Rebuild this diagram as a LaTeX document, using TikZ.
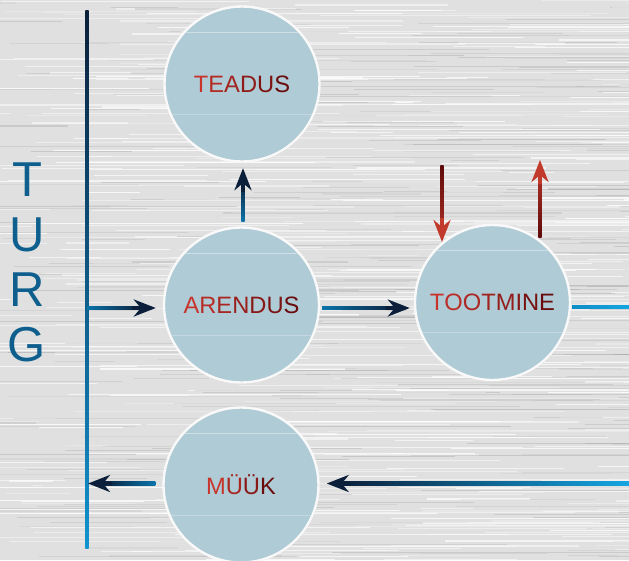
\documentclass[tikz,border=0pt]{standalone}
\usepackage{fontspec}
\setmainfont{Liberation Sans}
\usetikzlibrary{arrows.meta,calc,shadows}
\definecolor{navy}{HTML}{0B1F3A}
\definecolor{bmid}{HTML}{0A74AA}
\definecolor{bbright}{HTML}{14A6E2}
\definecolor{bline}{HTML}{1192CF}
\definecolor{discfill}{HTML}{AFCBD6}
\definecolor{rA}{HTML}{C8342C}
\definecolor{rB}{HTML}{6A0C0C}
\definecolor{rhead}{HTML}{C23A2C}
\definecolor{rdark}{HTML}{5E0A0A}
\definecolor{turgc}{HTML}{0E5F8D}
\definecolor{metal}{HTML}{E0E0E0}
\begin{document}
\begin{tikzpicture}[x=1pt,y=-1pt,
  disc/.style={circle, minimum size=155pt, inner sep=0pt, fill=discfill,
    draw=white!95!gray, line width=2.4pt,
    drop shadow={opacity=0.22, shadow xshift=0.8pt, shadow yshift=-1pt},
    font=\fontsize{23.7}{28}\selectfont},
  letter/.style={font=\fontsize{49}{50}\selectfont, text=turgc, inner sep=0pt},
  navytip/.style={navy, line width=3.4pt, -{Stealth[length=22pt,width=17pt,inset=7pt]}},
  redtip/.style={rhead, line width=3.4pt, -{Stealth[length=22pt,width=17pt,inset=7pt]}},
  gloss/.style={white, opacity=0.4, line width=0.8pt}
]
\useasboundingbox (0,0) rectangle (629,560);
% brushed metal background
\fill[metal] (0,0) rectangle (629,560);
\begin{scope}
\clip (0,0) rectangle (629,560);
\pgfmathsetseed{11}
\foreach \i in {1,...,420}{
  \pgfmathsetmacro\yy{rnd*560}
  \pgfmathsetmacro\xa{rnd*700-70}
  \pgfmathsetmacro\ll{40+rnd*320}
  \pgfmathsetmacro\op{0.25+0.55*rnd}
  \pgfmathsetmacro\lw{0.5+rnd}
  \draw[white, opacity=\op, line width=\lw pt] (\xa,\yy) -- ++(\ll,0);
}
\foreach \i in {1,...,260}{
  \pgfmathsetmacro\yy{rnd*560}
  \pgfmathsetmacro\xa{rnd*700-70}
  \pgfmathsetmacro\ll{40+rnd*320}
  \pgfmathsetmacro\op{0.1+0.25*rnd}
  \pgfmathsetmacro\lw{0.5+0.8*rnd}
  \draw[gray!80, opacity=\op, line width=\lw pt] (\xa,\yy) -- ++(\ll,0);
}
\end{scope}

% TURG letters
\node[letter] (lT) at (27,180) {T};
\node[letter] (lU) at (27,235) {U};
\node[letter] (lR) at (27,290) {R};
\node[letter] (lG) at (27,345) {G};

% circles
\node[disc] (teadus) at (242,84) {\textcolor{rA}{T}\textcolor{rA!80!rB}{E}\textcolor{rA!60!rB}{A}\textcolor{rA!40!rB}{D}\textcolor{rA!20!rB}{U}\textcolor{rB}{S}};
\node[disc] (arendus) at (241.5,305) {\textcolor{rA}{A}\textcolor{rA!83!rB}{R}\textcolor{rA!67!rB}{E}\textcolor{rA!50!rB}{N}\textcolor{rA!33!rB}{D}\textcolor{rA!17!rB}{U}\textcolor{rB}{S}};
\node[disc] (tootmine) at (492.5,302.5) {\textcolor{rA}{T}\textcolor{rA!86!rB}{O}\textcolor{rA!71!rB}{O}\textcolor{rA!57!rB}{T}\textcolor{rA!43!rB}{M}\textcolor{rA!29!rB}{I}\textcolor{rA!14!rB}{N}\textcolor{rB}{E}};
\node[disc] (muuk) at (241,485) {\textcolor{rA}{M}\textcolor{rA!67!rB}{Ü}\textcolor{rA!33!rB}{Ü}\textcolor{rB}{K}};

\foreach \n in {teadus,arendus,tootmine,muuk}{
  \begin{scope}
  \clip (\n.center) circle[radius=76pt];
  \draw[gloss] ($(\n.center)+(-80,-52)$) -- ++(160,0);
  \draw[gloss, opacity=0.25] ($(\n.center)+(-80,30)$) -- ++(160,0);
  \end{scope}
}

% vertical line
\coordinate (vtop) at (87,10);
\coordinate (vbot) at (87,548);
\coordinate (vjoin) at (87,308);
\shade[top color=navy, bottom color=bline] ($(vtop)+(-1.7,0)$) rectangle ($(vbot)+(1.7,0)$);

% line -> ARENDUS
\coordinate (aIn) at ($(arendus.west)+(-7,3)$);
\shade[left color=bmid, right color=navy] ($(vjoin)+(0,-1.7)$) rectangle ($(aIn)+(-14,1.7)$);
\draw[navytip] ($(aIn)+(-24,0)$) -- (aIn);

% ARENDUS -> TOOTMINE
\coordinate (atS) at ($(arendus.east)+(2,3)$);
\coordinate (atT) at ($(tootmine.west)+(-4,5.5)$);
\shade[left color=bmid, right color=navy] ($(atS)+(0,-1.7)$) rectangle ($(atT)+(-14,1.7)$);
\draw[navytip] ($(atT)+(-24,0)$) -- (atT);

% ARENDUS -> TEADUS
\coordinate (upS) at ($(arendus.north)+(1.5,-5)$);
\coordinate (upT) at ($(teadus.south)+(1,5.5)$);
\shade[bottom color=bmid, top color=navy] ($(upT)+(-1.7,14)$) rectangle ($(upS)+(1.7,0)$);
\draw[navytip] ($(upT)+(0,24)$) -- (upT);

% MUUK -> line
\coordinate (mOut) at ($(muuk.west)+(-7,-1.5)$);
\coordinate (mTip) at ($(mOut -| vtop)+(1,0)$);
\shade[left color=navy, right color=bmid] ($(mTip)+(14,-1.7)$) rectangle ($(mOut)+(0,1.7)$);
\draw[navytip] ($(mTip)+(24,0)$) -- (mTip);

% right edge -> MUUK
\coordinate (rIn) at (629,483.5);
\coordinate (mIn) at ($(muuk.east)+(7,-1.5)$);
\shade[left color=navy, middle color=bmid, right color=bbright] ($(mIn)+(14,-1.7)$) rectangle ($(rIn)+(0,1.7)$);
\draw[navytip] ($(mIn)+(24,0)$) -- (mIn);

% TOOTMINE -> right edge
\coordinate (tOut) at ($(tootmine.east)+(1,4.5)$);
\coordinate (tEnd) at (629,307);
\shade[left color=bmid!50!bbright, right color=bbright] ($(tOut)+(0,-1.7)$) rectangle ($(tEnd)+(0,1.7)$);

% red arrows
\coordinate (rd1) at (442,165);
\coordinate (rd2) at (442,242);
\shade[top color=rdark, bottom color=rhead!70!rdark] ($(rd1)+(-1.7,0)$) rectangle ($(rd2)+(1.7,-14)$);
\draw[redtip] ($(rd2)+(0,-24)$) -- (rd2);
\coordinate (ru1) at (540,237);
\coordinate (ru2) at (540,160);
\shade[bottom color=rdark, top color=rhead!80!rdark] ($(ru2)+(-1.7,14)$) rectangle ($(ru1)+(1.7,0)$);
\draw[redtip] ($(ru2)+(0,24)$) -- (ru2);
\end{tikzpicture}
\end{document}
